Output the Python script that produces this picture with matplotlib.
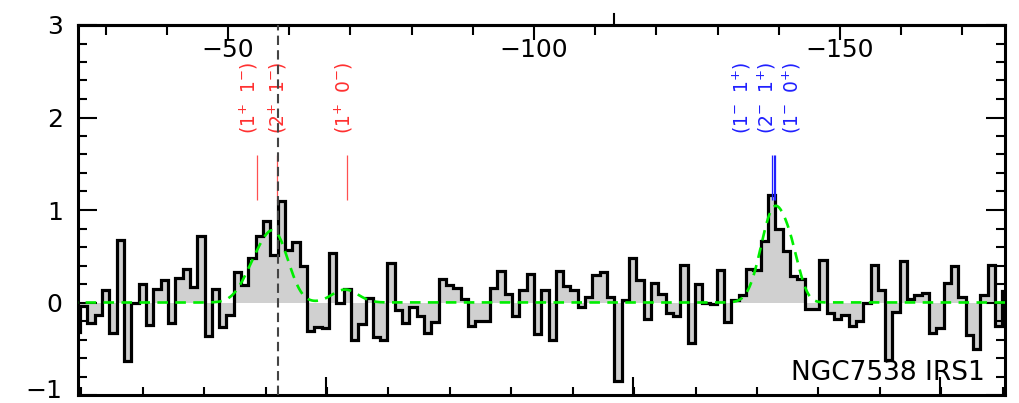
import numpy as np
import matplotlib
matplotlib.use("Agg")
import matplotlib.pyplot as plt
from matplotlib.ticker import MultipleLocator, FixedLocator
from matplotlib.transforms import blended_transform_factory, ScaledTranslation

plt.rcParams['mathtext.fontset'] = 'dejavusans'

# spectre par canal (le premier canal n'est que partiellement visible a gauche)
flux = [-0.32,
        -0.04, -0.22, -0.14, 0.13, -0.33, 0.68, -0.63, 0.00, 0.20, -0.24,
        0.15, 0.24, -0.22, 0.26, 0.36, 0.17, 0.72, -0.36, 0.15, -0.26,
        -0.14, 0.33, 0.19, 0.48, 0.72, 0.88, 0.51, 1.10, 0.57, 0.65,
        0.40, -0.31, -0.26, -0.28, 0.54, 0.00, 0.15, -0.40, -0.23, 0.05,
        -0.37, -0.41, 0.43, -0.08, -0.22, -0.05, -0.15, -0.33, -0.21, 0.25,
        0.19, 0.16, 0.04, -0.25, -0.20, -0.20, 0.16, 0.34, 0.09, -0.15,
        0.14, 0.31, -0.34, 0.14, -0.41, 0.34, 0.18, 0.13, -0.05, 0.06,
        0.30, 0.33, 0.06, -0.85, 0.03, 0.48, 0.24, -0.18, 0.21, 0.09,
        -0.11, -0.15, 0.41, -0.44, 0.20, 0.00, -0.02, 0.35, -0.21, 0.03,
        0.08, 0.36, 0.35, 0.66, 1.16, 0.80, 0.56, 0.29, 0.25, -0.07,
        -0.07, 0.46, -0.11, -0.18, -0.13, -0.25, -0.20, 0.00, 0.41, 0.13,
        -0.62, -0.10, 0.45, 0.04, 0.08, 0.10, -0.33, -0.28, 0.21, 0.40,
        0.06, -0.35, -0.50, 0.08, 0.41, -0.25, 0.12]
v_first_edge = -24.62   # km/s
dv = 1.196              # largeur d'un canal (km/s)

# composantes gaussiennes du fit
fit_amp = [0.38, 0.61, 0.14, 1.00, 0.30]
fit_v0 = [-54.74, -58.0, -69.12, -139.2, -142.2]
fit_sig = [2.29, 2.12, 2.12, 2.12, 1.47]

# transitions
red_v = [-54.74, -58.0, -69.44]
red_label_v = [-53.4, -58.1, -69.0]
red_labels = [r"$(1^{+}\;\;1^{-})$", r"$(2^{+}\;\;1^{-})$", r"$(1^{+}\;\;0^{-})$"]
blue_v = [-138.9, -139.15, -139.4]
blue_label_v = [-133.9, -138.0, -142.2]
blue_labels = [r"$(1^{-}\;\;1^{+})$", r"$(2^{-}\;\;1^{+})$", r"$(1^{-}\;\;0^{+})$"]
v_sys = -58.17
v_mark = -113.1

top_ticks = [-50, -100, -150]
bottom_major = [-66.0, -116.2, -166.4]

xmin, xmax = -25.47, -176.96

edges = v_first_edge - dv * np.arange(len(flux) + 1)
vals = np.array(flux)

fig = plt.figure(figsize=(10.2, 4.03), dpi=100)
ax = fig.add_axes([78 / 1020, 8 / 403, 927 / 1020, 370 / 403])

ax.stairs(vals[::-1], edges[::-1], fill=True, color='#d0d0d0', baseline=0, zorder=1)
ax.stairs(vals[::-1], edges[::-1], baseline=None, color='black', lw=2.3, zorder=2)

vgrid = np.linspace(xmax, xmin, 1500)
model = np.zeros_like(vgrid)
for a, c, s in zip(fit_amp, fit_v0, fit_sig):
    model += a * np.exp(-0.5 * ((vgrid - c) / s) ** 2)
ax.plot(vgrid, model, color='#00ee00', lw=1.9, ls=(0, (4, 2.8)), zorder=3)

ax.axvline(v_sys, color='#444444', lw=1.5, ls=(0, (4.5, 2.5)), zorder=4)

ax.vlines(red_v, 1.11, 1.6, color='#ff5050', lw=0.9, zorder=3)
ax.vlines(blue_v, 1.11, 1.6, color='#2020ff', lw=0.9, zorder=3)
for v, lab in zip(red_label_v, red_labels):
    ax.text(v, 2.21, lab, rotation=90, ha='center', va='center',
            color='#ff3030', fontsize=13.5)
for v, lab in zip(blue_label_v, blue_labels):
    ax.text(v, 2.21, lab, rotation=90, ha='center', va='center',
            color='#2020ff', fontsize=13.5)

ax.text(0.978, 0.04, 'NGC7538 IRS1', transform=ax.transAxes, ha='right',
        va='baseline', fontsize=19)

trans = blended_transform_factory(ax.transData, ax.transAxes)
ax.plot([v_mark, v_mark], [1.0, 1.03], transform=trans, color='black',
        lw=1.5, clip_on=False)

ax.set_xlim(xmin, xmax)
ax.set_ylim(-1, 3)

ax.yaxis.set_major_locator(MultipleLocator(1))
ax.yaxis.set_minor_locator(MultipleLocator(0.2))
ax.tick_params(axis='y', which='both', direction='in', left=True, right=True,
               labelsize=18, pad=11, width=1.5)
ax.tick_params(axis='y', which='major', length=13.5)
ax.tick_params(axis='y', which='minor', length=6.5)

ax.xaxis.set_major_locator(FixedLocator(bottom_major))
ax.xaxis.set_minor_locator(FixedLocator(np.arange(-26.0, -177.0, -10.04)))
ax.tick_params(axis='x', which='both', direction='in', labelbottom=False,
               top=False, width=1.5)
ax.tick_params(axis='x', which='major', length=13)
ax.tick_params(axis='x', which='minor', length=5.8)

secax = ax.secondary_xaxis('top')
secax.set_xticks(top_ticks)
secax.xaxis.set_minor_locator(MultipleLocator(10))
secax.tick_params(axis='x', which='both', direction='in', labelsize=18,
                  pad=-27, width=1.5)
secax.tick_params(axis='x', which='major', length=10.8)
secax.tick_params(axis='x', which='minor', length=7.2)
secax.spines['top'].set_linewidth(2.2)

for sp in ax.spines.values():
    sp.set_linewidth(2.2)

# le label -1 est remonte un peu pour ne pas etre coupe
fig.canvas.draw()
for lab in ax.get_yticklabels():
    if lab.get_text() in ('\u22121', '-1'):
        lab.set_transform(lab.get_transform() +
                          ScaledTranslation(0, 6 / 100, fig.dpi_scale_trans))

fig.savefig('out.png', dpi=100)
